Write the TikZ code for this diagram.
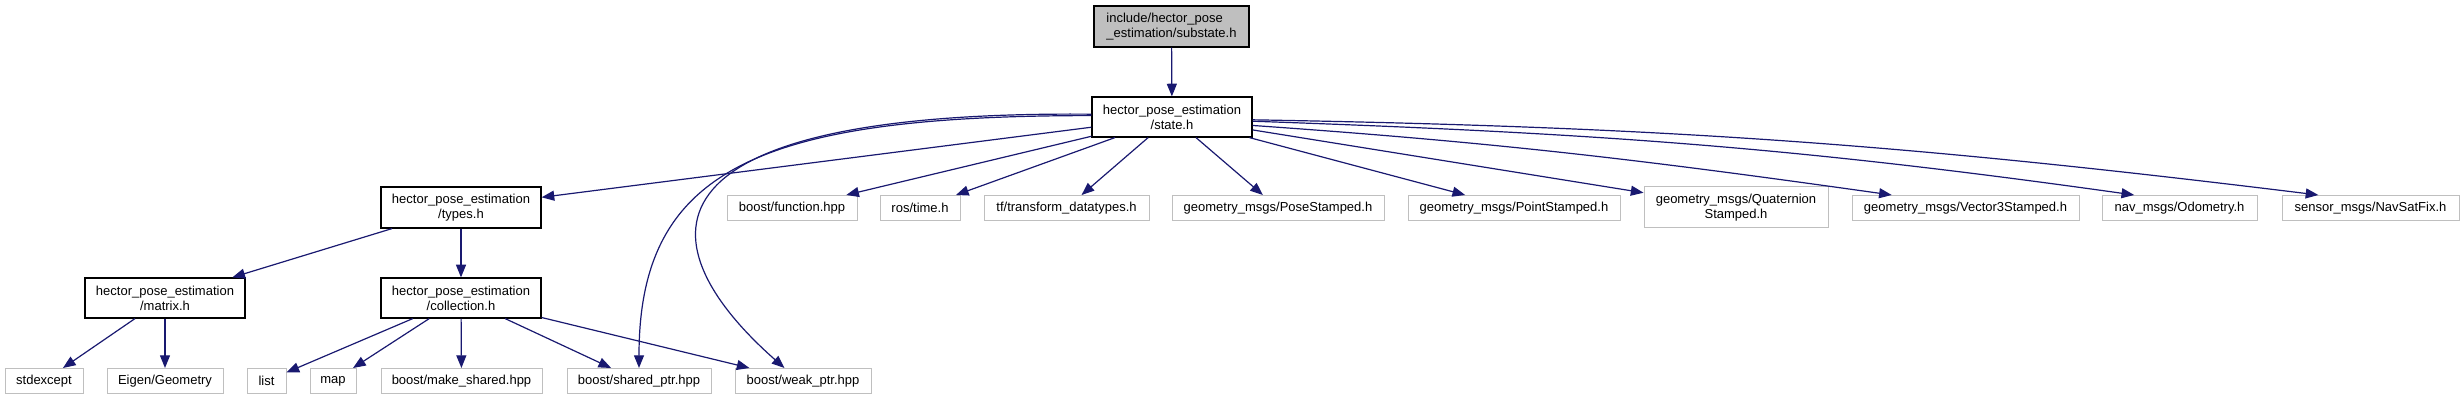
\documentclass[tikz,border=0pt]{standalone}
\usepackage{fontspec}
\setmainfont{Liberation Sans}
\usetikzlibrary{arrows.meta}
\definecolor{inclblue}{RGB}{25, 25, 112}
\definecolor{framegrey}{RGB}{191, 191, 191}

\begin{document}
\begin{tikzpicture}[
	x=0.75pt, y=0.75pt,
	font=\fontsize{9.75pt}{11.25pt}\selectfont,
	% Styles for the header boxes and the include arrows
	rootfile/.style={draw=black, fill=framegrey, line width=0.9pt, inner sep=0pt, minimum height=30.75pt},
	localfile/.style={draw=black, fill=white, line width=0.9pt, inner sep=0pt, minimum height=30pt, align=center},
	extfile/.style={draw=framegrey, fill=white, line width=0.75pt, inner sep=0pt, minimum height=18.75pt, align=center},
	incl/.style={draw=inclblue, line width=0.9pt, -{Triangle[length=9.5pt, width=7.5pt]}}
	]
	\useasboundingbox (0, 0) rectangle (2464, 400);
	
	% ==========================================
	% 1. FILE AND ITS DIRECT INCLUDE
	% ==========================================
	\node[rootfile, minimum width=116.25pt, align=left] (substate) at (1171.5, 373.5) {include/hector\_pose\\\_estimation/substate.h};
	\node[localfile, minimum width=120pt] (state) at (1172, 283) {hector\_pose\_estimation\\/state.h};
	
	% ==========================================
	% 2. LOCAL HEADERS
	% ==========================================
	\node[localfile, minimum width=120pt, minimum height=30.75pt] (types) at (461, 192.5) {hector\_pose\_estimation\\/types.h};
	\node[localfile, minimum width=120pt] (matrix) at (165, 102) {hector\_pose\_estimation\\/matrix.h};
	\node[localfile, minimum width=120pt] (collection) at (461, 102) {hector\_pose\_estimation\\/collection.h};
	
	% ==========================================
	% 3. SYSTEM HEADERS, MIDDLE ROW
	% ==========================================
	\node[extfile, minimum width=97.5pt] (function) at (792, 192) {boost/function.hpp};
	\node[extfile, minimum width=60pt] (rostime) at (920, 192) {ros/time.h};
	\node[extfile, minimum width=123.75pt] (tfdata) at (1066.5, 192) {tf/transform\_datatypes.h};
	\node[extfile, minimum width=159pt] (pose) at (1278, 192) {geometry\_msgs/PoseStamped.h};
	\node[extfile, minimum width=159pt] (point) at (1514, 192) {geometry\_msgs/PointStamped.h};
	\node[extfile, minimum width=138pt, minimum height=30.75pt] (quaternion) at (1736, 192.5) {geometry\_msgs/Quaternion\\Stamped.h};
	\node[extfile, minimum width=170.25pt] (vector3) at (1965.5, 192) {geometry\_msgs/Vector3Stamped.h};
	\node[extfile, minimum width=116.25pt] (odometry) at (2179.5, 192) {nav\_msgs/Odometry.h};
	\node[extfile, minimum width=132.75pt] (navsatfix) at (2370.5, 192) {sensor\_msgs/NavSatFix.h};
	
	% ==========================================
	% 4. SYSTEM HEADERS, BOTTOM ROW
	% ==========================================
	\node[extfile, minimum width=58.5pt] (stdexcept) at (44, 19) {stdexcept};
	\node[extfile, minimum width=87pt] (eigen) at (165, 19) {Eigen/Geometry};
	\node[extfile, minimum width=29.25pt] (list) at (266.5, 19) {list};
	\node[extfile, minimum width=34.5pt] (map) at (333, 19) {map};
	\node[extfile, minimum width=120.75pt] (makeshared) at (461.5, 19) {boost/make\_shared.hpp};
	\node[extfile, minimum width=108pt] (sharedptr) at (639, 19) {boost/shared\_ptr.hpp};
	\node[extfile, minimum width=102pt] (weakptr) at (803, 19) {boost/weak\_ptr.hpp};
	
	% ==========================================
	% 5. INCLUDE ARROWS
	% ==========================================
	\draw[incl] (substate) -- (state);
	
	% state.h, straight ones
	\draw[incl] (state) -- (types);
	\draw[incl] (state) -- (function);
	\draw[incl] (state) -- (rostime);
	\draw[incl] (state) -- (tfdata);
	\draw[incl] (state) -- (pose);
	\draw[incl] (state) -- (point);
	\draw[incl] (state) -- (quaternion);
	
	% state.h, bent ones
	\draw[incl] (state.179) .. controls +(-332, 0) and +(0, 199) .. (sharedptr.north);
	\draw[incl] (state.178) .. controls +(-472, 4) and +(-135, 119) .. (weakptr.145);
	\draw[incl] (state.-6) to[out=-4, in=172] (vector3.170);
	\draw[incl] (state.-3) to[out=-2, in=172] (odometry.164);
	\draw[incl] (state.-2) to[out=-1, in=173] (navsatfix.166);
	
	% types.h and below
	\draw[incl] (types) -- (matrix);
	\draw[incl] (types) -- (collection);
	\draw[incl] (matrix) -- (stdexcept);
	\draw[incl] (matrix) -- (eigen);
	\draw[incl] (collection) -- (list);
	\draw[incl] (collection) -- (map);
	\draw[incl] (collection) -- (makeshared);
	\draw[incl] (collection) -- (sharedptr);
	\draw[incl] (collection) -- (weakptr);
	
\end{tikzpicture}
\end{document}
